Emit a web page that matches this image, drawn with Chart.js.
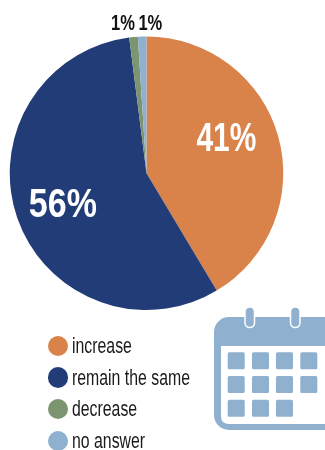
<!DOCTYPE html>
<html>
<head>
<meta charset="utf-8">
<title>Pie</title>
<script src="https://cdn.jsdelivr.net/npm/chart.js@4"></script>
<style>
  html, body { margin: 0; padding: 0; background: #fff; overflow: hidden; }
  #wrap { position: relative; width: 325px; height: 450px; overflow: hidden; }
  #miGrafica { position: absolute; left: 0; top: 0; }
  #calendar { position: absolute; left: 0; top: 0; }
  .key i { position: absolute; left: 47.5px; width: 20.5px; height: 20.5px; border-radius: 50%; }
  .key span { position: absolute; left: 72px; height: 22px; line-height: 22px; white-space: nowrap;
              font: 22px "Liberation Sans", sans-serif; color: #1a1a1a;
              transform: scaleX(0.72); transform-origin: left center; }
</style>
</head>
<body>
<div id="wrap">
  <canvas id="miGrafica" width="325" height="450"></canvas>
  <svg id="calendar" width="325" height="450">
    <rect x="214" y="317" width="130" height="113" rx="15" fill="#8FB0CE"/>
    <path d="M221 346H325V424H229Q221 424 221 416Z" fill="#fff"/>
    <g fill="#8FB0CE" id="dias"></g>
    <rect x="245" y="307" width="9.5" height="20.5" rx="4.7" fill="#8FB0CE" stroke="#fff" stroke-width="1.5"/>
    <rect x="290.5" y="307" width="9.5" height="20.5" rx="4.7" fill="#8FB0CE" stroke="#fff" stroke-width="1.5"/>
  </svg>
</div>
<script>
"use strict";

const categorias = ['increase', 'remain the same', 'decrease', 'no answer'];
const valores = [41, 56, 1, 1];
const colores = ['#D9834A', '#223C78', '#7C9570', '#8FB0CE'];

// desplazamiento de cada etiqueta respecto al centro de su sector
const ajustes = [
    { dx: 14, dy: -15, size: 41, ancho: 0.73, color: '#fff' },
    { dx: -19, dy: 10, size: 41, ancho: 0.83, color: '#fff' },
    { dx: -17, dy: -81, size: 22, ancho: 0.75, color: '#111' },
    { dx: 6, dy: -81, size: 22, ancho: 0.75, color: '#111' }
];

const etiquetas = {
    id: 'etiquetas',
    afterDatasetsDraw(chart) {
        const ctx = chart.ctx;
        chart.getDatasetMeta(0).data.forEach(function (arco, i) {
            const p = arco.tooltipPosition();
            const a = ajustes[i];
            ctx.save();
            // no hay fuente condensada instalada, se estrecha a mano
            ctx.translate(p.x + a.dx, p.y + a.dy);
            ctx.scale(a.ancho, 1);
            ctx.textAlign = 'center';
            ctx.textBaseline = 'middle';
            ctx.font = 'bold ' + a.size + 'px "Liberation Sans", sans-serif';
            ctx.fillStyle = a.color;
            ctx.fillText(valores[i] + '%', 0, 0);
            ctx.restore();
        });
    }
};

new Chart(document.getElementById('miGrafica'), {
    type: 'pie',
    data: {
        labels: categorias,
        datasets: [{ data: valores, backgroundColor: colores, borderWidth: 0 }]
    },
    options: {
        responsive: false,
        animation: false,
        layout: { padding: { left: 9.5, right: 41.5, top: 36.5, bottom: 140 } },
        plugins: { legend: { display: false }, tooltip: { enabled: false } }
    },
    plugins: [etiquetas]
});

// leyenda
const filas = [346, 377.5, 409, 441];
categorias.forEach(function (nombre, i) {
    const div = document.createElement('div');
    div.className = 'key';
    const punto = document.createElement('i');
    punto.style.background = colores[i];
    punto.style.top = (filas[i] - 10.25) + 'px';
    const texto = document.createElement('span');
    texto.style.top = (filas[i] - 13) + 'px';
    texto.textContent = nombre;
    div.appendChild(punto);
    div.appendChild(texto);
    document.getElementById('wrap').appendChild(div);
});

// cuadritos del calendario
const columnasDia = [227.7, 252, 276, 300.3];
const filasDia = [352.3, 376, 399.7];
const dias = document.getElementById('dias');
filasDia.forEach(function (y, f) {
    columnasDia.forEach(function (x, c) {
        if (f === 2 && c === 3) return;
        const r = document.createElementNS('http://www.w3.org/2000/svg', 'rect');
        r.setAttribute('x', x);
        r.setAttribute('y', y);
        r.setAttribute('width', 17);
        r.setAttribute('height', 17);
        r.setAttribute('rx', 1.5);
        dias.appendChild(r);
    });
});
</script>
</body>
</html>
